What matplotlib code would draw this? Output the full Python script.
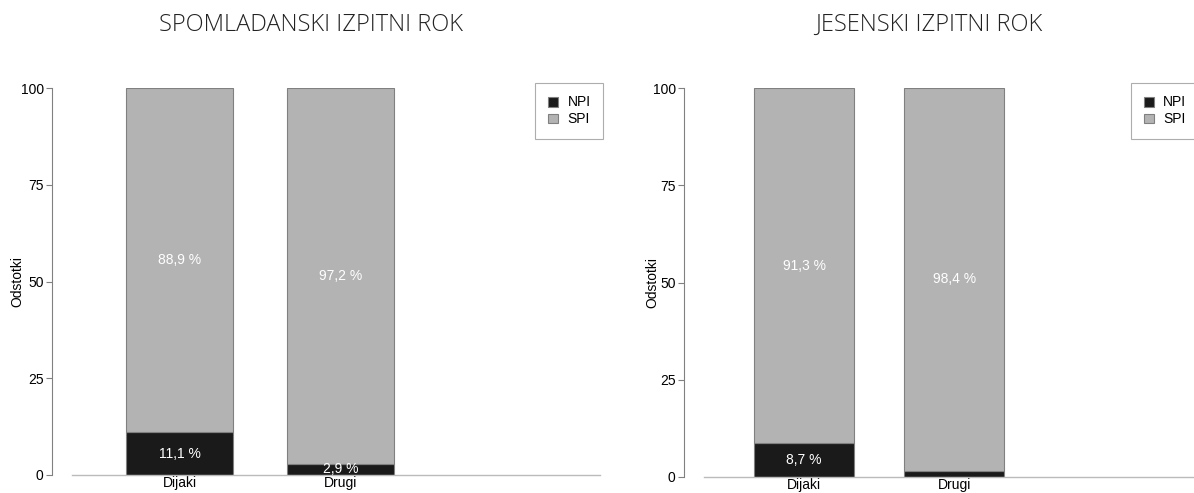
import matplotlib.pyplot as plt
import numpy as np

plt.rcParams['font.family'] = ['Liberation Sans', 'DejaVu Sans']

categories = ['Dijaki', 'Drugi']
titles = ['SPOMLADANSKI IZPITNI ROK', 'JESENSKI IZPITNI ROK']
npi_vals = [[11.1, 2.9], [8.7, 1.6]]
spi_vals = [[88.9, 97.2], [91.3, 98.4]]
npi_labels = [['11,1 %', '2,9 %'], ['8,7 %', '']]
spi_labels = [['88,9 %', '97,2 %'], ['91,3 %', '98,4 %']]
yticks = [0, 25, 50, 75, 100]

W, H = 1194, 493
fig = plt.figure(figsize=(W / 100, H / 100), dpi=100)

# axes rects in pixels: left, top, right, bottom
rects = [(72, 88, 600, 475), (704, 88, 1196, 477)]
title_x = [311, 929]
ylabel_x = [17, 652]

for i in range(2):
    l, t, r, b = rects[i]
    ax = fig.add_axes([l / W, 1 - b / H, (r - l) / W, (b - t) / H])
    x = np.arange(len(categories))
    ax.bar(x, npi_vals[i], width=0.665, color='#1a1a1a', edgecolor='#808080',
           linewidth=0.8, label='NPI')
    ax.bar(x, spi_vals[i], width=0.665, bottom=npi_vals[i], color='#b3b3b3',
           edgecolor='#808080', linewidth=0.8, label='SPI')
    for j in range(len(categories)):
        n = npi_vals[i][j]
        if npi_labels[i][j]:
            ax.text(x[j], n / 2, npi_labels[i][j], color='white', ha='center',
                    va='center', fontsize=10)
        ax.text(x[j], n + (100 - n) / 2, spi_labels[i][j], color='white',
                ha='center', va='center', fontsize=10)
    ax.set_xlim(-0.668, 2.612)
    ax.set_ylim(0, 100)
    ax.set_yticks(yticks)
    ax.set_xticks(x)
    ax.set_xticklabels(categories, fontsize=10)
    ax.tick_params(axis='x', length=0, pad=1)
    ax.tick_params(axis='y', length=4, color='#808080', labelsize=10, pad=2)
    for side in ['top', 'right']:
        ax.spines[side].set_visible(False)
    ax.spines['left'].set_position(('outward', 14.4))
    ax.spines['left'].set_color('#808080')
    ax.spines['left'].set_linewidth(0.8)
    ax.spines['bottom'].set_color('#bbbbbb')
    ax.spines['bottom'].set_linewidth(1.0)
    fig.text(ylabel_x[i] / W, 1 - ((t + b) / 2) / H, 'Odstotki', rotation=90,
             ha='center', va='center', fontsize=10)
    leg = ax.legend(loc='upper right', fontsize=10, fancybox=False,
                    handlelength=0.7, handleheight=0.7, handletextpad=0.7,
                    borderpad=0.9, labelspacing=0.2, borderaxespad=0,
                    edgecolor='#999999')
    leg.set_bbox_to_anchor(((r + 3 - l) / (r - l), 1 + 5 / (b - t)), transform=ax.transAxes)
    leg.get_frame().set_linewidth(0.8)
    fig.text(title_x[i] / W, 1 - 25 / H, titles[i], ha='center', va='center',
             fontsize=17, family=['Open Sans', 'DejaVu Sans'], fontweight='light',
             color='#222222')

fig.savefig('out.png', dpi=100)
